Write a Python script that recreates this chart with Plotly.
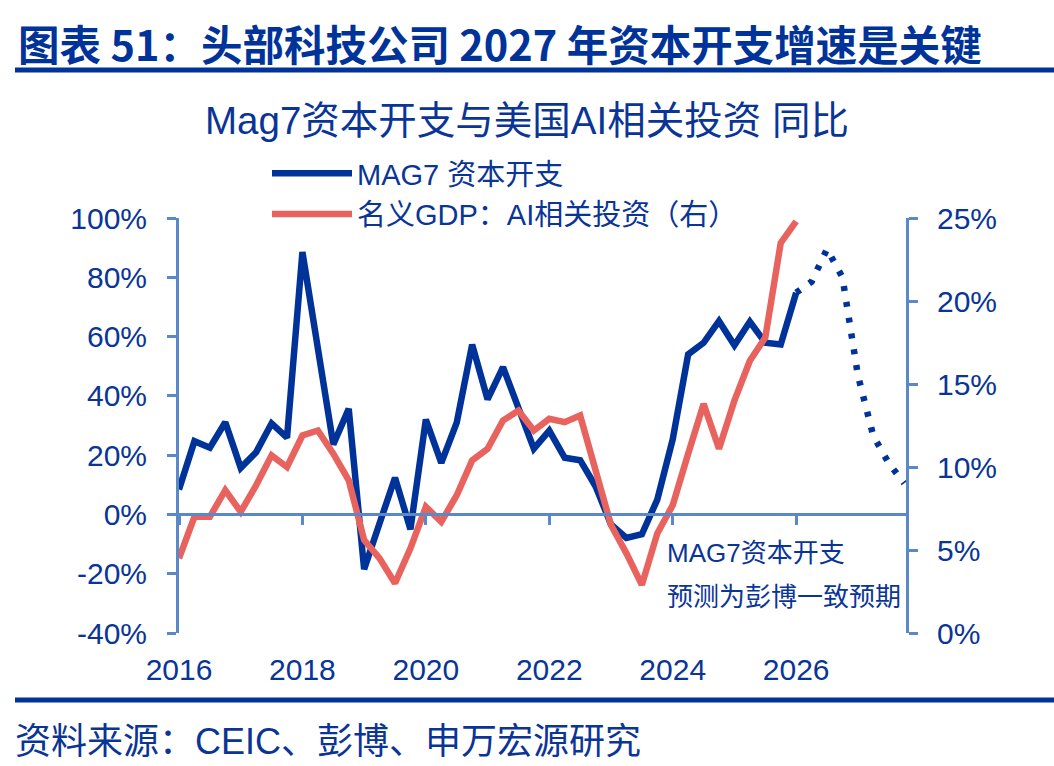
import plotly.graph_objects as go

# ---------------- data ----------------
START_YEAR = 2016
blue_actual = [8.4, 24.7, 22.5, 31.1, 15.7, 21.0, 30.7, 25.9, 88.5, 55.0,
               23.6, 35.6, -18.5, -3.0, 12.4, -5.0, 32.0, 17.4, 31.0, 57.3,
               38.8, 49.7, 36.0, 22.2, 28.3, 19.1, 18.3, 9.5, -3.4, -7.9,
               -6.7, 5.0, 25.3, 54.0, 57.9, 65.2, 57.1, 65.0, 57.9, 57.3,
               74.8]
blue_forecast = [74.8, 78.5, 89.5, 80.0, 47.0, 26.5, 17.3, 10.5]
red_values = [4.5, 7.0, 7.0, 8.6, 7.3, 8.9, 10.7, 10.0, 11.9, 12.2,
              10.8, 9.2, 5.6, 4.5, 3.0, 5.1, 7.6, 6.7, 8.3, 10.4,
              11.1, 12.8, 13.4, 12.2, 12.9, 12.7, 13.1, 9.8, 6.5, 4.8,
              2.9, 6.0, 7.7, 10.8, 13.8, 11.1, 14.0, 16.4, 17.8, 23.5,
              24.8]

left_ticks = [-40, -20, 0, 20, 40, 60, 80, 100]
left_ticktext = ["-40%", "-20%", "0%", "20%", "40%", "60%", "80%", "100%"]
right_ticks = [0, 5, 10, 15, 20, 25]
right_ticktext = ["0%", "5%", "10%", "15%", "20%", "25%"]
x_ticks = [2016, 2018, 2020, 2022, 2024, 2026]
x_ticktext = ["2016", "2018", "2020", "2022", "2024", "2026"]

name_blue = "MAG7 资本开支"
name_red = "名义GDP：AI相关投资（右）"
title_text = "图表 51：头部科技公司 2027 年资本开支增速是关键"
subtitle_text = "Mag7资本开支与美国AI相关投资 同比"
note_lines = ["MAG7资本开支", "预测为彭博一致预期"]
source_text = "资料来源：CEIC、彭博、申万宏源研究"

# ---------------- helpers ----------------
x_actual = [START_YEAR + i * 0.25 for i in range(len(blue_actual))]
x_fc_start = len(blue_actual) - 1
x_forecast = [START_YEAR + (x_fc_start + i) * 0.25 for i in range(len(blue_forecast))]
x_red = [START_YEAR + i * 0.25 for i in range(len(red_values))]

W, H = 1054, 766
L, R, T, B = 179, 906, 218, 633
PW, PH = R - L, B - T


def px(xp):
    return (xp - L) / PW


def py(yp):
    return (B - yp) / PH


BLUE = "#003399"
RED = "#E8625E"
AXIS = "#5B88C6"
TEXT = "#0A3597"
FONT = "Liberation Sans, Noto Sans CJK SC, Arial, sans-serif"
CJK = "Noto Sans CJK SC, Liberation Sans, sans-serif"

fig = go.Figure()
fig.add_trace(go.Scatter(x=x_actual, y=blue_actual, mode="lines", name=name_blue,
                         line=dict(color=BLUE, width=6.5), xaxis="x", yaxis="y"))
fig.add_trace(go.Scatter(x=x_forecast, y=blue_forecast, mode="lines", showlegend=False,
                         line=dict(color=BLUE, width=6.5, dash="5px,11px"),
                         xaxis="x", yaxis="y"))
fig.add_trace(go.Scatter(x=x_red, y=red_values, mode="lines", name=name_red,
                         line=dict(color=RED, width=6.5), xaxis="x2", yaxis="y2"))

xr = [2016, 2027.78]

fig.update_layout(
    width=W, height=H,
    margin=dict(l=L, r=W - R, t=T, b=H - B, pad=0),
    paper_bgcolor="white", plot_bgcolor="white",
    font=dict(family=FONT, color=TEXT, size=29),
    showlegend=True,
    legend=dict(x=px(267), y=py(148), xanchor="left", yanchor="top",
                font=dict(family=FONT, size=29, color=TEXT),
                itemwidth=80, bgcolor="rgba(0,0,0,0)", tracegroupgap=0),
    xaxis=dict(range=xr, anchor="free", position=40 / 140,
               showline=True, linecolor=AXIS, linewidth=3,
               ticks="outside", ticklen=9, tickwidth=3, tickcolor=AXIS,
               tickvals=x_ticks, showticklabels=False, showgrid=False, zeroline=False),
    xaxis2=dict(range=xr, overlaying="x", anchor="free", position=0, side="bottom",
                showline=False, ticks="", tickvals=x_ticks, ticktext=x_ticktext,
                ticklabelstandoff=16,
                tickfont=dict(family=FONT, size=30, color=TEXT),
                showgrid=False, zeroline=False),
    yaxis=dict(range=[-40, 100], tickvals=left_ticks, ticktext=left_ticktext,
               showline=True, linecolor=AXIS, linewidth=3,
               ticks="outside", ticklen=9, tickwidth=3, tickcolor=AXIS,
               ticklabelstandoff=14,
               tickfont=dict(family=FONT, size=30, color=TEXT),
               showgrid=False, zeroline=False),
    yaxis2=dict(range=[0, 25], overlaying="y", side="right", anchor="x",
                tickvals=right_ticks, ticktext=right_ticktext,
                showline=True, linecolor=AXIS, linewidth=3,
                ticks="outside", ticklen=9, tickwidth=3, tickcolor=AXIS,
                ticklabelstandoff=13,
                tickfont=dict(family=FONT, size=30, color=TEXT),
                showgrid=False, zeroline=False),
)

annotations = [
    dict(text="<b>" + title_text + "</b>", x=px(16), y=py(43), xref="paper", yref="paper",
         xanchor="left", yanchor="middle", showarrow=False,
         font=dict(family=CJK, size=41.5, color=BLUE)),
    dict(text=subtitle_text, x=px(527), y=py(120), xref="paper", yref="paper",
         xanchor="center", yanchor="middle", showarrow=False,
         font=dict(family=FONT, size=38.5, color=TEXT)),
    dict(text=note_lines[0], x=px(665), y=py(553), xref="paper", yref="paper",
         xanchor="left", yanchor="middle", showarrow=False,
         font=dict(family=FONT, size=26, color=TEXT)),
    dict(text=note_lines[1], x=px(665), y=py(597), xref="paper", yref="paper",
         xanchor="left", yanchor="middle", showarrow=False,
         font=dict(family=FONT, size=26, color=TEXT)),
    dict(text=source_text, x=px(13), y=py(741), xref="paper", yref="paper",
         xanchor="left", yanchor="middle", showarrow=False,
         font=dict(family=FONT, size=36, color=TEXT)),
]
fig.update_layout(annotations=annotations)

fig.update_layout(shapes=[
    dict(type="line", xref="paper", yref="paper", x0=px(15), x1=px(1054), y0=py(70), y1=py(70),
         line=dict(color=BLUE, width=5)),
    dict(type="line", xref="paper", yref="paper", x0=px(15), x1=px(1054), y0=py(700), y1=py(700),
         line=dict(color=BLUE, width=5)),
])

fig.write_html("out.html")
